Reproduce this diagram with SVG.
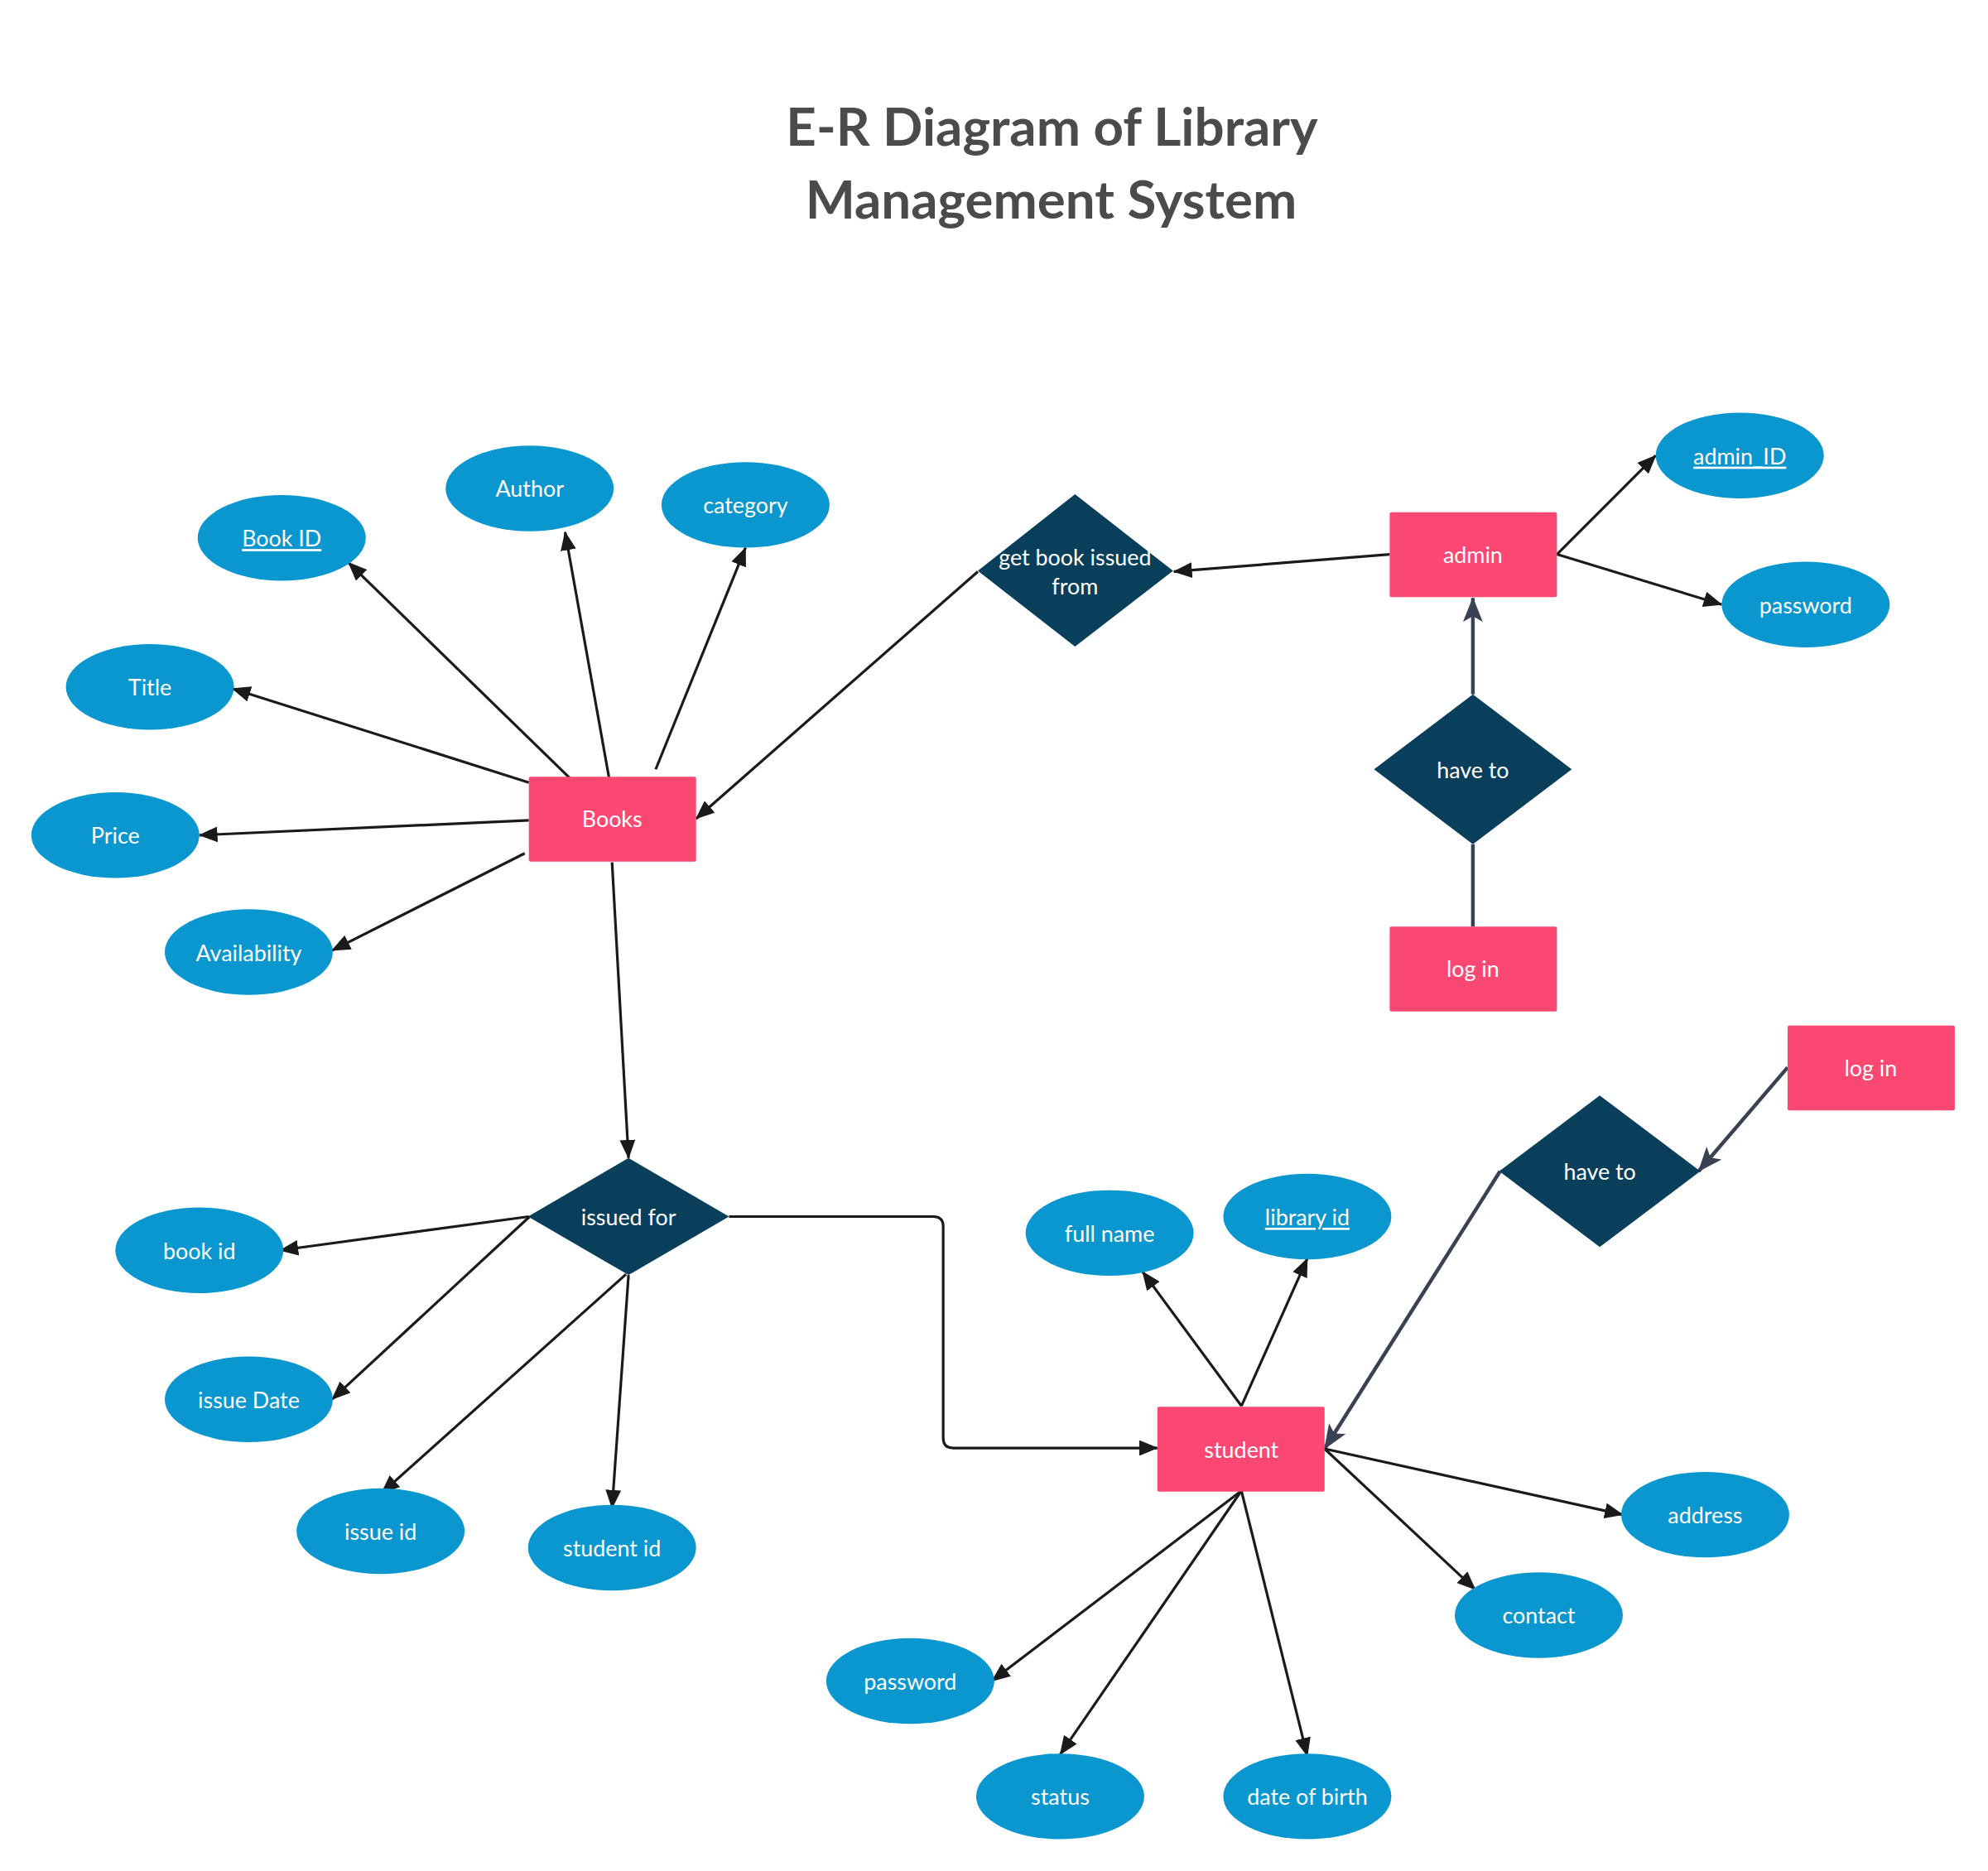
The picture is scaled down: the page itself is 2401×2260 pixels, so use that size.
<svg xmlns="http://www.w3.org/2000/svg" width="2401" height="2260" viewBox="0 0 2401 2260">
<style>
.ent{fill:#fa4872}
.att{fill:#0a96ce}
.rel{fill:#0a3f5c}
.lbl{font-family:Lato,"Open Sans","Liberation Sans",sans-serif;font-size:27px;fill:#ffffff;text-anchor:middle;dominant-baseline:central}
.u{text-decoration:underline}
.title{font-family:Lato,"Open Sans","Liberation Sans",sans-serif;font-size:64px;font-weight:bold;fill:#4b4b4b;text-anchor:middle}
.c{stroke:#1a1a1a;stroke-width:3.2;fill:none;marker-end:url(#arr)}
.s{stroke:#394152;stroke-width:4.5;fill:none}
</style>
<defs>
<marker id="arr" viewBox="0 0 23 19" refX="22" refY="9.5" markerWidth="23" markerHeight="19" markerUnits="userSpaceOnUse" orient="auto">
<path d="M0,0 L23,9.5 L0,19 Z" fill="#1a1a1a"/>
</marker>
<marker id="arr2" viewBox="0 0 30 24" refX="29" refY="12" markerWidth="30" markerHeight="24" markerUnits="userSpaceOnUse" orient="auto">
<path d="M0,0 L30,12 L0,24 L7,12 Z" fill="#394152"/>
</marker>
</defs>
<rect width="2401" height="2260" fill="#ffffff"/>
<g transform="scale(0.9949)">
<g id="title">
<text class="title" x="1277" y="177">E-R Diagram of Library</text>
<text class="title" x="1276" y="265">Management System</text>
</g>
<g id="connectors">
<line class="c" x1="692" y1="945" x2="423" y2="683"/>
<line class="c" x1="740" y1="948" x2="686" y2="646"/>
<line class="c" x1="796" y1="934" x2="905" y2="665"/>
<line class="c" x1="642" y1="950" x2="282" y2="836"/>
<line class="c" x1="642" y1="996" x2="242" y2="1014"/>
<line class="c" x1="637" y1="1036" x2="403" y2="1154"/>
<line class="c" x1="743" y1="1047" x2="763" y2="1406"/>
<line class="c" x1="1187" y1="694" x2="845" y2="994"/>
<line class="c" x1="1687" y1="673" x2="1425" y2="694"/>
<line class="c" x1="1890" y1="673" x2="2010" y2="553"/>
<line class="c" x1="1890" y1="673" x2="2090" y2="734"/>
<line class="s" x1="1788" y1="843" x2="1788" y2="726" marker-end="url(#arr2)"/>
<line class="s" x1="1788" y1="1125" x2="1788" y2="1025"/>
<line class="s" x1="2170" y1="1296" x2="2062" y2="1422" marker-end="url(#arr2)"/>
<line class="s" x1="1821" y1="1422" x2="1608" y2="1759" marker-end="url(#arr2)"/>
<line class="c" x1="642" y1="1477" x2="340" y2="1518"/>
<line class="c" x1="643" y1="1477" x2="403" y2="1699"/>
<line class="c" x1="760" y1="1547" x2="463" y2="1813"/>
<line class="c" x1="763" y1="1548" x2="743" y2="1831"/>
<path class="c" d="M885,1477 L1133,1477 Q1145,1477 1145,1489 L1145,1746 Q1145,1758 1157,1758 L1405,1758"/>
<line class="c" x1="1507" y1="1707" x2="1387" y2="1544"/>
<line class="c" x1="1507" y1="1707" x2="1587" y2="1528"/>
<line class="c" x1="1608" y1="1759" x2="1970" y2="1839"/>
<line class="c" x1="1608" y1="1759" x2="1791" y2="1930"/>
<line class="c" x1="1507" y1="1810" x2="1204" y2="2041"/>
<line class="c" x1="1507" y1="1810" x2="1287" y2="2130"/>
<line class="c" x1="1507" y1="1810" x2="1587" y2="2132"/>
</g>
<g id="books"><rect class="ent" x="642" y="943" width="203" height="103" rx="2"/><text class="lbl" x="743" y="994">Books</text></g>
<g id="admin"><rect class="ent" x="1687" y="622" width="203" height="103" rx="2"/><text class="lbl" x="1788" y="673">admin</text></g>
<g id="login-admin"><rect class="ent" x="1687" y="1125" width="203" height="103" rx="2"/><text class="lbl" x="1788" y="1176">log in</text></g>
<g id="login-student"><rect class="ent" x="2170" y="1245" width="203" height="103" rx="2"/><text class="lbl" x="2271" y="1296">log in</text></g>
<g id="student"><rect class="ent" x="1405" y="1708" width="203" height="103" rx="2"/><text class="lbl" x="1507" y="1759">student</text></g>
<g id="get-book-issued-from"><polygon class="rel" points="1305,600 1424,693 1305,785 1187,693"/><text class="lbl" x="1305" y="676">get book issued</text><text class="lbl" x="1305" y="711">from</text></g>
<g id="have-to-admin"><polygon class="rel" points="1788,843 1908,934 1788,1025 1668,934"/><text class="lbl" x="1788" y="934">have to</text></g>
<g id="issued-for"><polygon class="rel" points="763,1406 885,1477 763,1548 641,1477"/><text class="lbl" x="763" y="1477">issued for</text></g>
<g id="have-to-student"><polygon class="rel" points="1942,1330 2064,1422 1942,1514 1820,1422"/><text class="lbl" x="1942" y="1422">have to</text></g>
<g id="book-id-key"><ellipse class="att" cx="342" cy="653" rx="102" ry="52"/><text class="lbl u" x="342" y="653">Book ID</text></g>
<g id="author"><ellipse class="att" cx="643" cy="593" rx="102" ry="52"/><text class="lbl" x="643" y="593">Author</text></g>
<g id="category"><ellipse class="att" cx="905" cy="613" rx="102" ry="52"/><text class="lbl" x="905" y="613">category</text></g>
<g id="title-attr"><ellipse class="att" cx="182" cy="834" rx="102" ry="52"/><text class="lbl" x="182" y="834">Title</text></g>
<g id="price"><ellipse class="att" cx="140" cy="1014" rx="102" ry="52"/><text class="lbl" x="140" y="1014">Price</text></g>
<g id="availability"><ellipse class="att" cx="302" cy="1156" rx="102" ry="52"/><text class="lbl" x="302" y="1156">Availability</text></g>
<g id="admin-id"><ellipse class="att" cx="2112" cy="553" rx="102" ry="52"/><text class="lbl u" x="2112" y="553">admin_ID</text></g>
<g id="admin-password"><ellipse class="att" cx="2192" cy="734" rx="102" ry="52"/><text class="lbl" x="2192" y="734">password</text></g>
<g id="issue-book-id"><ellipse class="att" cx="242" cy="1518" rx="102" ry="52"/><text class="lbl" x="242" y="1518">book id</text></g>
<g id="issue-date"><ellipse class="att" cx="302" cy="1699" rx="102" ry="52"/><text class="lbl" x="302" y="1699">issue Date</text></g>
<g id="issue-id"><ellipse class="att" cx="462" cy="1859" rx="102" ry="52"/><text class="lbl" x="462" y="1859">issue id</text></g>
<g id="student-id"><ellipse class="att" cx="743" cy="1879" rx="102" ry="52"/><text class="lbl" x="743" y="1879">student id</text></g>
<g id="full-name"><ellipse class="att" cx="1347" cy="1497" rx="102" ry="52"/><text class="lbl" x="1347" y="1497">full name</text></g>
<g id="library-id"><ellipse class="att" cx="1587" cy="1477" rx="102" ry="52"/><text class="lbl u" x="1587" y="1477">library id</text></g>
<g id="address"><ellipse class="att" cx="2070" cy="1839" rx="102" ry="52"/><text class="lbl" x="2070" y="1839">address</text></g>
<g id="contact"><ellipse class="att" cx="1868" cy="1961" rx="102" ry="52"/><text class="lbl" x="1868" y="1961">contact</text></g>
<g id="student-password"><ellipse class="att" cx="1105" cy="2041" rx="102" ry="52"/><text class="lbl" x="1105" y="2041">password</text></g>
<g id="status"><ellipse class="att" cx="1287" cy="2181" rx="102" ry="52"/><text class="lbl" x="1287" y="2181">status</text></g>
<g id="date-of-birth"><ellipse class="att" cx="1587" cy="2181" rx="102" ry="52"/><text class="lbl" x="1587" y="2181">date of birth</text></g>
</g>
</svg>
